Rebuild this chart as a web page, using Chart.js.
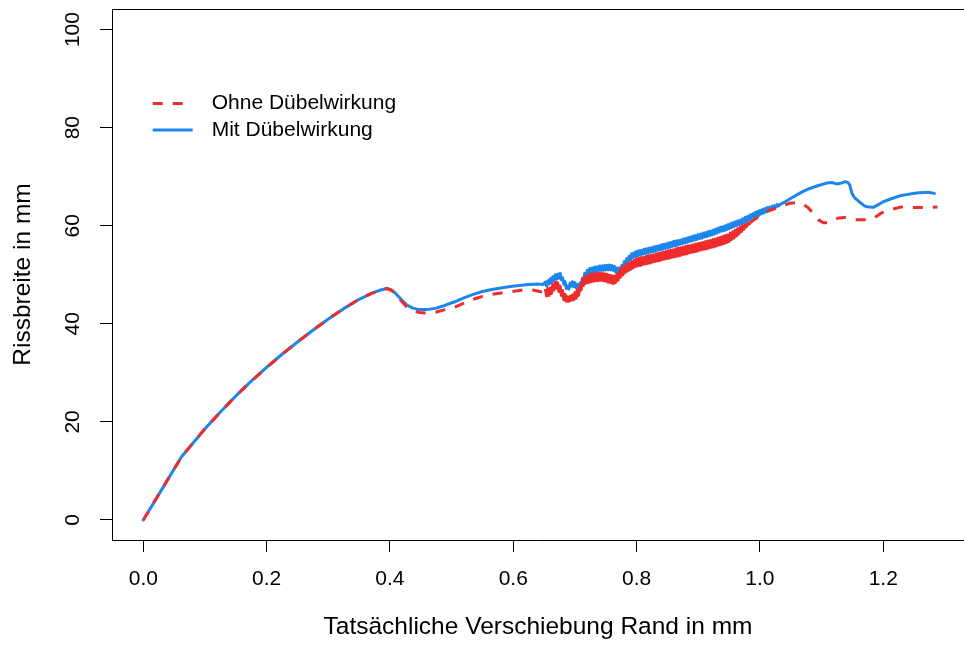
<!DOCTYPE html>
<html>
<head>
<meta charset="utf-8">
<script src="https://cdn.jsdelivr.net/npm/chart.js@4.4.1/dist/chart.umd.min.js"></script>
<style>
  html, body { margin: 0; padding: 0; background: #fff; overflow: hidden; }
  canvas { display: block; }
</style>
</head>
<body>
<canvas id="chart" width="964" height="646"></canvas>
<script>
// Common initial rise (both variants coincide up to the first peak)
const rampX = [0, 0.031, 0.062, 0.08, 0.10, 0.125, 0.15, 0.175, 0.20, 0.225, 0.25, 0.275, 0.30, 0.325, 0.35, 0.37, 0.385, 0.395];
const rampY = [0, 6.45, 12.9, 15.6, 18.6, 22.0, 25.3, 28.3, 31.1, 33.8, 36.3, 38.7, 41.0, 43.1, 45.0, 46.2, 46.9, 47.2];

// Mit Dübelwirkung
const mitMidX = [0.403, 0.41, 0.418, 0.427, 0.437, 0.448, 0.46, 0.475, 0.49, 0.505, 0.52, 0.535, 0.55, 0.565, 0.58, 0.595, 0.61, 0.625, 0.64, 0.648];
const mitMidY = [46.9, 46.1, 45.0, 43.9, 43.2, 42.9, 42.9, 43.2, 43.8, 44.5, 45.3, 46.0, 46.6, 47.0, 47.3, 47.6, 47.8, 48.0, 48.1, 48.0];
// load cycles (dense oscillation)
const mitCycX = [
  0.652, 0.654, 0.656, 0.658, 0.660, 0.662, 0.664, 0.666, 0.668, 0.670,
  0.672, 0.674, 0.676, 0.678, 0.680, 0.682, 0.684, 0.686, 0.688, 0.690,
  0.692, 0.694, 0.696, 0.698, 0.700, 0.702, 0.704, 0.706, 0.708, 0.710,
  0.712, 0.714, 0.716, 0.718, 0.720, 0.722, 0.724, 0.726, 0.728, 0.730,
  0.732, 0.734, 0.736, 0.738, 0.740, 0.742, 0.744, 0.746, 0.748, 0.750,
  0.752, 0.754, 0.756, 0.758, 0.760, 0.762, 0.764, 0.766, 0.768, 0.770,
  0.772, 0.774, 0.776, 0.778, 0.780, 0.782, 0.784, 0.786, 0.788, 0.790,
  0.792, 0.794, 0.796, 0.798, 0.800, 0.802, 0.804, 0.806, 0.808, 0.810,
  0.812, 0.814, 0.816, 0.818, 0.820, 0.822, 0.824, 0.826, 0.828, 0.830,
  0.832, 0.834, 0.836, 0.838, 0.840, 0.842, 0.844, 0.846, 0.848, 0.850,
  0.852, 0.854, 0.856, 0.858, 0.860, 0.862, 0.864, 0.866, 0.868, 0.870,
  0.872, 0.874, 0.876, 0.878, 0.880, 0.882, 0.884, 0.886, 0.888, 0.890,
  0.892, 0.894, 0.896, 0.898, 0.900, 0.902, 0.904, 0.906, 0.908, 0.910,
  0.912, 0.914, 0.916, 0.918, 0.920, 0.922, 0.924, 0.926, 0.928, 0.930,
  0.932, 0.934, 0.936, 0.938, 0.940, 0.942, 0.944, 0.946, 0.948, 0.950,
  0.952, 0.954, 0.956, 0.958, 0.960, 0.962, 0.964, 0.966, 0.968, 0.970,
  0.972, 0.974, 0.976, 0.978, 0.980, 0.982, 0.984, 0.986, 0.988, 0.990,
  0.992, 0.994, 0.996, 0.998, 1.000, 1.002, 1.004, 1.006, 1.008, 1.010,
  1.012, 1.014, 1.016, 1.018, 1.020, 1.022, 1.024, 1.026, 1.028, 1.030,
  1.032
];
const mitCycY = [
  48.5, 47.7, 48.8, 48.1, 49.2, 48.4, 49.6, 48.8, 50.0, 49.1,
  50.1, 49.3, 50.3, 49.0, 49.4, 48.1, 48.6, 47.2, 47.7, 47.1,
  48.3, 47.7, 48.6, 47.6, 48.4, 47.3, 48.0, 46.8, 48.3, 47.8,
  49.3, 48.8, 50.3, 49.8, 50.9, 50.2, 51.3, 50.4, 51.4, 50.6,
  51.6, 50.7, 51.6, 50.8, 51.8, 50.9, 51.8, 50.9, 51.9, 51.0,
  51.9, 51.0, 52.0, 51.0, 51.9, 50.9, 51.7, 50.6, 51.4, 50.5,
  51.4, 50.6, 51.9, 51.3, 52.7, 52.0, 53.3, 52.6, 53.8, 53.1,
  54.3, 53.5, 54.5, 53.7, 54.8, 53.9, 54.9, 54.0, 55.0, 54.2,
  55.2, 54.3, 55.3, 54.4, 55.4, 54.6, 55.5, 54.7, 55.7, 54.8,
  55.8, 55.0, 55.9, 55.1, 56.1, 55.2, 56.2, 55.4, 56.3, 55.5,
  56.5, 55.6, 56.6, 55.8, 56.8, 55.9, 56.9, 56.0, 57.0, 56.2,
  57.1, 56.3, 57.3, 56.5, 57.4, 56.6, 57.6, 56.8, 57.7, 56.9,
  57.9, 57.1, 58.0, 57.2, 58.2, 57.4, 58.3, 57.5, 58.5, 57.7,
  58.6, 57.8, 58.8, 58.0, 58.9, 58.1, 59.1, 58.3, 59.3, 58.5,
  59.5, 58.7, 59.7, 58.9, 59.8, 59.0, 60.0, 59.2, 60.2, 59.4,
  60.4, 59.6, 60.6, 59.8, 60.8, 60.0, 61.0, 60.2, 61.1, 60.4,
  61.4, 60.6, 61.7, 60.9, 61.9, 61.1, 62.2, 61.4, 62.4, 61.6,
  62.7, 61.9, 62.9, 62.1, 63.1, 62.4, 63.3, 62.6, 63.5, 62.8,
  63.7, 63.0, 63.8, 63.3, 64.0, 63.5, 64.1, 63.8, 64.3, 64.0,
  64.3
];
const mitEndX = [1.040, 1.049, 1.060, 1.070, 1.081, 1.095, 1.108, 1.118, 1.125, 1.132, 1.138, 1.143, 1.146, 1.149, 1.153, 1.160, 1.170, 1.177, 1.184,
                 1.192, 1.200, 1.213, 1.227, 1.240, 1.254, 1.265, 1.275, 1.283];
const mitEndY = [64.8, 65.5, 66.3, 67.0, 67.6, 68.2, 68.7, 68.8, 68.5, 68.7, 69.0, 68.8, 68.2, 66.7, 65.8, 65.0, 64.0, 63.8, 63.75,
                 64.3, 64.9, 65.5, 66.1, 66.4, 66.7, 66.8, 66.8, 66.6];

// Ohne Dübelwirkung
const ohneMidX = [0.403, 0.41, 0.418, 0.427, 0.437, 0.448, 0.462, 0.475, 0.49, 0.505, 0.52, 0.535, 0.55, 0.565, 0.58, 0.595, 0.61, 0.622, 0.632, 0.643, 0.648];
const ohneMidY = [46.8, 45.9, 44.7, 43.5, 42.7, 42.3, 42.2, 42.4, 42.9, 43.4, 44.2, 45.0, 45.6, 46.0, 46.3, 46.5, 46.8, 47.0, 46.9, 46.6, 46.4];
// load cycles (dense oscillation)
const ohneCycX = [
  0.652, 0.654, 0.656, 0.658, 0.660, 0.662, 0.664, 0.666, 0.668, 0.670,
  0.672, 0.674, 0.676, 0.678, 0.680, 0.682, 0.684, 0.686, 0.688, 0.690,
  0.692, 0.694, 0.696, 0.698, 0.700, 0.702, 0.704, 0.706, 0.708, 0.710,
  0.712, 0.714, 0.716, 0.718, 0.720, 0.722, 0.724, 0.726, 0.728, 0.730,
  0.732, 0.734, 0.736, 0.738, 0.740, 0.742, 0.744, 0.746, 0.748, 0.750,
  0.752, 0.754, 0.756, 0.758, 0.760, 0.762, 0.764, 0.766, 0.768, 0.770,
  0.772, 0.774, 0.776, 0.778, 0.780, 0.782, 0.784, 0.786, 0.788, 0.790,
  0.792, 0.794, 0.796, 0.798, 0.800, 0.802, 0.804, 0.806, 0.808, 0.810,
  0.812, 0.814, 0.816, 0.818, 0.820, 0.822, 0.824, 0.826, 0.828, 0.830,
  0.832, 0.834, 0.836, 0.838, 0.840, 0.842, 0.844, 0.846, 0.848, 0.850,
  0.852, 0.854, 0.856, 0.858, 0.860, 0.862, 0.864, 0.866, 0.868, 0.870,
  0.872, 0.874, 0.876, 0.878, 0.880, 0.882, 0.884, 0.886, 0.888, 0.890,
  0.892, 0.894, 0.896, 0.898, 0.900, 0.902, 0.904, 0.906, 0.908, 0.910,
  0.912, 0.914, 0.916, 0.918, 0.920, 0.922, 0.924, 0.926, 0.928, 0.930,
  0.932, 0.934, 0.936, 0.938, 0.940, 0.942, 0.944, 0.946, 0.948, 0.950,
  0.952, 0.954, 0.956, 0.958, 0.960, 0.962, 0.964, 0.966, 0.968, 0.970,
  0.972, 0.974, 0.976, 0.978, 0.980, 0.982, 0.984
];
const ohneCycY = [
  47.1, 45.7, 47.2, 45.8, 47.3, 46.2, 48.0, 46.9, 48.5, 47.3,
  48.4, 46.6, 47.7, 45.8, 46.8, 44.9, 46.0, 44.6, 45.5, 44.6,
  45.6, 44.8, 45.9, 44.9, 46.4, 45.2, 46.9, 45.8, 47.7, 46.9,
  48.9, 47.8, 49.5, 48.3, 49.8, 48.4, 50.0, 48.6, 50.1, 48.7,
  50.2, 48.8, 50.3, 48.8, 50.3, 48.9, 50.3, 48.8, 50.2, 48.7,
  50.1, 48.5, 49.9, 48.4, 49.8, 48.2, 49.7, 48.4, 50.1, 48.9,
  50.7, 49.5, 51.4, 50.0, 51.8, 50.5, 52.1, 50.8, 52.4, 51.1,
  52.7, 51.4, 53.0, 51.7, 53.3, 51.8, 53.4, 51.9, 53.5, 52.1,
  53.6, 52.2, 53.8, 52.3, 53.9, 52.4, 54.0, 52.6, 54.1, 52.7,
  54.3, 52.8, 54.4, 52.9, 54.5, 53.1, 54.6, 53.2, 54.8, 53.3,
  54.9, 53.4, 55.0, 53.6, 55.1, 53.7, 55.3, 53.8, 55.4, 53.9,
  55.5, 54.1, 55.6, 54.2, 55.8, 54.3, 55.9, 54.5, 56.0, 54.6,
  56.1, 54.7, 56.3, 54.8, 56.4, 55.0, 56.5, 55.1, 56.6, 55.2,
  56.8, 55.3, 56.9, 55.5, 57.0, 55.6, 57.2, 55.7, 57.3, 55.9,
  57.5, 56.1, 57.6, 56.2, 57.8, 56.4, 58.0, 56.6, 58.1, 56.8,
  58.5, 57.2, 58.8, 57.5, 59.1, 57.9, 59.4, 58.3, 59.7, 58.8,
  60.0, 59.3, 60.2, 59.8, 60.5, 60.3, 60.6
];
const ohneEndX = [0.994, 1.005, 1.020, 1.035, 1.049, 1.060, 1.068, 1.078, 1.087, 1.095, 1.103, 1.110, 1.119, 1.128, 1.137, 1.146, 1.155, 1.165, 1.175,
                  1.183, 1.190, 1.197, 1.205, 1.215, 1.228, 1.240, 1.255, 1.270, 1.288];
const ohneEndY = [61.5, 62.6, 63.3, 64.0, 64.6, 64.7, 64.6, 63.7, 62.5, 61.2, 60.6, 60.6, 61.2, 61.6, 61.7, 61.4, 61.2, 61.2, 61.2,
                  61.4, 62.0, 62.6, 63.0, 63.4, 63.8, 63.8, 63.7, 63.7, 63.8];

// Axis ticks
const xTicks = [0, 0.2, 0.4, 0.6, 0.8, 1.0, 1.2];
const xTickLabels = ['0.0', '0.2', '0.4', '0.6', '0.8', '1.0', '1.2'];
const yTicks = [0, 20, 40, 60, 80, 100];

const seriesNames = ['Ohne Dübelwirkung', 'Mit Dübelwirkung'];
const RED = '#EE2C2C';
const BLUE = '#1C86EE';
const FONT = '"Liberation Sans", Arial, Helvetica, sans-serif';

const toPoints = (xs, ys) => xs.map((x, i) => ({ x, y: ys[i] }));

const mitPoints = toPoints(
  rampX.concat(mitMidX, mitCycX, mitEndX),
  rampY.concat(mitMidY, mitCycY, mitEndY)
);
const ohnePoints = toPoints(
  rampX.concat(ohneMidX, ohneCycX, ohneEndX),
  rampY.concat(ohneMidY, ohneCycY, ohneEndY)
);

// index range of the dense load-cycle part of the "Ohne" curve
const ohneCycStart = rampX.length + ohneMidX.length;
const ohneCycEnd = ohneCycStart + ohneCycX.length - 1;

// Frame line along the top of the plot region
const topFrame = {
  id: 'topFrame',
  beforeDatasetsDraw(chart) {
    const { ctx, chartArea } = chart;
    ctx.save();
    ctx.strokeStyle = '#000';
    ctx.lineWidth = 1;
    ctx.beginPath();
    ctx.moveTo(chartArea.left, chartArea.top + 0.5);
    ctx.lineTo(chartArea.right, chartArea.top + 0.5);
    ctx.stroke();
    ctx.restore();
  }
};

// Legend inside the plot, with line samples
const insetLegend = {
  id: 'insetLegend',
  afterDatasetsDraw(chart) {
    const { ctx } = chart;
    const rows = [
      { ds: chart.data.datasets[0], y: 103.5 },
      { ds: chart.data.datasets[1], y: 130 }
    ];
    ctx.save();
    rows.forEach(r => {
      ctx.strokeStyle = r.ds.borderColor;
      ctx.lineWidth = r.ds.borderWidth;
      ctx.lineCap = 'butt';
      ctx.setLineDash(r.ds.borderDash || []);
      ctx.beginPath();
      ctx.moveTo(152.7, r.y);
      ctx.lineTo(r.ds.borderDash && r.ds.borderDash.length ? 183.5 : 192.7, r.y);
      ctx.stroke();
      ctx.setLineDash([]);
      ctx.fillStyle = '#000';
      ctx.font = '21px ' + FONT;
      ctx.textBaseline = 'middle';
      ctx.textAlign = 'left';
      ctx.fillText(r.ds.label, 211.7, r.y);
    });
    ctx.restore();
  }
};

new Chart(document.getElementById('chart'), {
  type: 'scatter',
  data: {
    datasets: [
      {
        label: seriesNames[0],
        data: ohnePoints,
        showLine: true,
        borderColor: RED,
        backgroundColor: RED,
        borderWidth: 3,
        borderDash: [10, 10],
        borderCapStyle: 'butt',
        borderJoinStyle: 'round',
        pointRadius: 0,
        tension: 0,
        segment: {
          borderDash: ctx => (ctx.p0DataIndex >= ohneCycStart && ctx.p1DataIndex <= ohneCycEnd) ? [] : undefined
        }
      },
      {
        label: seriesNames[1],
        data: mitPoints,
        showLine: true,
        borderColor: BLUE,
        backgroundColor: BLUE,
        borderWidth: 3,
        borderCapStyle: 'round',
        borderJoinStyle: 'round',
        pointRadius: 0,
        tension: 0
      }
    ]
  },
  options: {
    responsive: false,
    animation: false,
    events: [],
    layout: { padding: { top: 9, left: 0, right: 0, bottom: 0 } },
    plugins: {
      legend: { display: false },
      tooltip: { enabled: false },
      title: { display: false }
    },
    scales: {
      x: {
        type: 'linear',
        position: 'bottom',
        min: -0.0508,
        max: 1.331,
        bounds: 'data',
        afterFit: s => { s.height = 106; s.paddingLeft = 0; s.paddingRight = 0; },
        afterBuildTicks: s => { s.ticks = xTicks.map(v => ({ value: v })); },
        border: { display: true, color: '#000', width: 1 },
        grid: { display: true, drawOnChartArea: false, drawTicks: true, tickLength: 12, color: '#000', lineWidth: 1 },
        ticks: {
          autoSkip: false,
          maxRotation: 0,
          minRotation: 0,
          padding: 15,
          color: '#000',
          font: { family: FONT, size: 21 },
          callback: (v, i) => xTickLabels[i]
        },
        title: {
          display: true,
          text: 'Tatsächliche Verschiebung Rand in mm',
          color: '#000',
          font: { family: FONT, size: 24.5 },
          padding: { top: 0, bottom: 3.9 }
        }
      },
      y: {
        type: 'linear',
        position: 'left',
        min: -4.08,
        max: 104.2,
        bounds: 'data',
        afterFit: s => { s.width = 112; s.paddingTop = 0; s.paddingBottom = 0; },
        afterBuildTicks: s => { s.ticks = yTicks.map(v => ({ value: v })); },
        border: { display: true, color: '#000', width: 1 },
        grid: { display: true, drawOnChartArea: false, drawTicks: true, tickLength: 12, color: '#000', lineWidth: 1 },
        ticks: {
          autoSkip: false,
          minRotation: 90,
          maxRotation: 90,
          crossAlign: 'center',
          padding: 9,
          color: '#000',
          font: { family: FONT, size: 21 }
        },
        title: {
          display: true,
          text: 'Rissbreite in mm',
          color: '#000',
          font: { family: FONT, size: 24.5 },
          padding: { top: 8.7, bottom: 0 }
        }
      }
    }
  },
  plugins: [topFrame, insetLegend]
});
</script>
</body>
</html>
